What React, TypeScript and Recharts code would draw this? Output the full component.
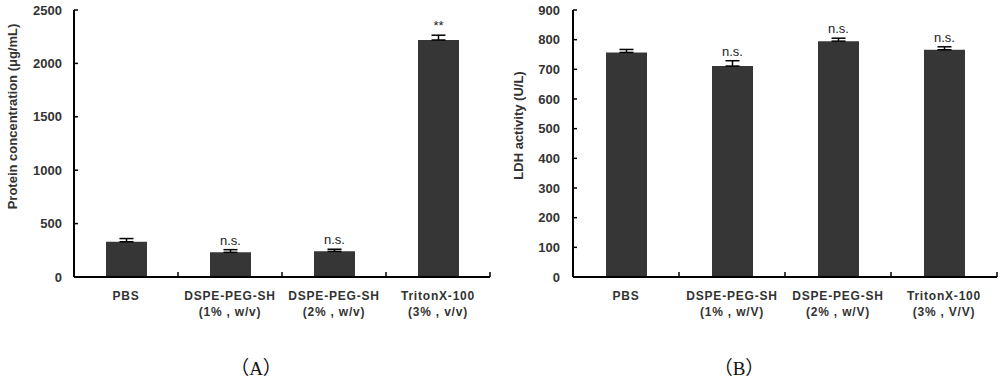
import { BarChart, Bar, XAxis, YAxis, ErrorBar, LabelList } from 'recharts'

// categories and values
const categoriesA = ['PBS', 'DSPE-PEG-SH\n(1% , w/v)', 'DSPE-PEG-SH\n(2% , w/v)', 'TritonX-100\n(3% , v/v)']
const categoriesB = ['PBS', 'DSPE-PEG-SH\n(1% , w/V)', 'DSPE-PEG-SH\n(2% , w/V)', 'TritonX-100\n(3% , V/V)']

const proteinValues = [330, 231, 240, 2219]
const proteinErrors = [30, 25, 20, 45]
const proteinSig = ['', 'n.s.', 'n.s.', '**']
const proteinTicks = [0, 500, 1000, 1500, 2000, 2500]

const ldhValues = [757, 711, 795, 766]
const ldhErrors = [10, 18, 10, 10]
const ldhSig = ['', 'n.s.', 'n.s.', 'n.s.']
const ldhTicks = [0, 100, 200, 300, 400, 500, 600, 700, 800, 900]

const FONT = '"Liberation Sans", Arial, sans-serif'
const BAR_COLOR = '#363636'

function buildData(cats: string[], vals: number[], errs: number[], sig: string[]) {
  return cats.map((name, i) => ({
    name,
    value: vals[i],
    err: errs[i],
    errRange: [0, errs[i]],
    sig: sig[i],
  }))
}

function CategoryTick(props: any) {
  const { x, y, payload } = props
  // payload.offset is half a band: the small mark sits on the category boundary
  const bx = x + Number(payload.offset || 0)
  const [l1, l2] = String(payload.value).split('\n')
  return (
    <g>
      <path d={`M${bx},${y}V${y - 5}`} stroke="#000" strokeWidth={1.5} fill="none" />
      <text x={x} y={y} textAnchor="middle" fontFamily={FONT} fontSize={12} fontWeight="bold" fill="#333" letterSpacing={0.8}>
        <tspan x={x} dy={23}>{l1}</tspan>
        {l2 && <tspan x={x} dy={16}>{l2}</tspan>}
      </text>
    </g>
  )
}

function ValueTick(props: any) {
  const { x, y, payload, gap } = props
  return (
    <g>
      <path d={`M${x},${y}H${x + 4}`} stroke="#000" strokeWidth={1.5} fill="none" />
      <text x={x - gap} y={y} dy={4.5} textAnchor="end" fontFamily={FONT} fontSize={13} fontWeight="bold" fill="#333">
        {payload.value}
      </text>
    </g>
  )
}

function AxisTitle(props: any) {
  const { viewBox, text, cx, shift } = props
  const x = viewBox.x + cx
  const y = viewBox.y + viewBox.height / 2 + shift
  return (
    <text x={x} y={y} transform={`rotate(-90 ${x} ${y})`} textAnchor="middle" dominantBaseline="central" fontFamily={FONT} fontSize={13} fontWeight="bold" fill="#333">
      {text}
    </text>
  )
}

function Panel(props: {
  data: any[]
  ticks: number[]
  max: number
  yWidth: number
  right: number
  title: string
  titleX: number
  titleShift: number
  gap: number
}) {
  const { data, ticks, max, yWidth, right, title, titleX, titleShift, gap } = props
  return (
    <BarChart width={500} height={330} data={data} margin={{ top: 10, right, left: 0, bottom: 0 }}>
      <XAxis
        dataKey="name"
        interval={0}
        height={53}
        tickSize={0}
        tickMargin={0}
        axisLine={{ stroke: '#000', strokeWidth: 2 }}
        tickLine={false}
        tick={<CategoryTick />}
      />
      <YAxis
        domain={[0, max]}
        ticks={ticks}
        width={yWidth}
        tickSize={0}
        tickMargin={0}
        interval={0}
        axisLine={{ stroke: '#000', strokeWidth: 2 }}
        tickLine={false}
        tick={<ValueTick gap={gap} />}
        label={<AxisTitle text={title} cx={titleX} shift={titleShift} />}
      />
      <Bar dataKey="value" stackId="s" fill={BAR_COLOR} barSize={41} isAnimationActive={false}>
        <ErrorBar dataKey="errRange" width={7} stroke="#000" strokeWidth={1.5} direction="y" />
      </Bar>
      <Bar dataKey="err" stackId="s" fill="transparent" barSize={41} isAnimationActive={false}>
        <LabelList dataKey="sig" position="top" offset={5} fontFamily={FONT} fontSize={13} fill="#222" />
      </Bar>
    </BarChart>
  )
}

export default function App() {
  const dataA = buildData(categoriesA, proteinValues, proteinErrors, proteinSig)
  const dataB = buildData(categoriesB, ldhValues, ldhErrors, ldhSig)
  const caption = {
    position: 'absolute' as const,
    top: 356,
    fontFamily: '"Liberation Serif", "Noto Sans CJK SC", serif',
    fontSize: 19,
    lineHeight: '26px',
    color: '#111',
    transform: 'translateX(-50%)',
    whiteSpace: 'nowrap' as const,
  }
  return (
    <div style={{ position: 'absolute', left: 0, top: 0, width: 1000, height: 383, background: '#fff', overflow: 'hidden' }}>
      <div style={{ position: 'absolute', left: 0, top: 0 }}>
        <Panel data={dataA} ticks={proteinTicks} max={2500} yWidth={74} right={10} title="Protein concentration (μg/mL)" titleX={12} titleShift={-27} gap={12} />
      </div>
      <div style={{ position: 'absolute', left: 500, top: 0 }}>
        <Panel data={dataB} ticks={ldhTicks} max={900} yWidth={73} right={3} title="LDH activity (U/L)" titleX={18} titleShift={-18} gap={13} />
      </div>
      <div style={{ ...caption, left: 256 }}>（A）</div>
      <div style={{ ...caption, left: 739 }}>（B）</div>
    </div>
  )
}
